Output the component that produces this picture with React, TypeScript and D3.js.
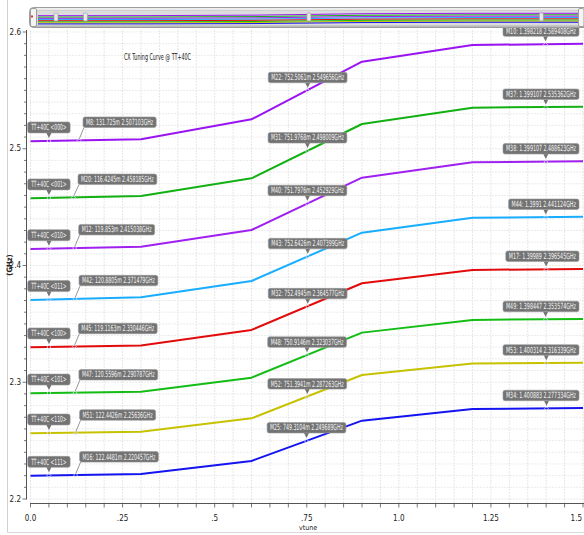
import React from "react";
import * as d3 from "d3";

// ---------- data ----------
const vtune = [0, 0.3, 0.6, 0.9, 1.2, 1.5];
const codes = ["<000>", "<001>", "<010>", "<011>", "<100>", "<101>", "<110>", "<111>"];
const colors = ["#9a14f2", "#12b012", "#a020f0", "#18adff", "#e20a0a", "#14bd14", "#c6c200", "#1414f0"];
const freq000 = [2.5064, 2.5082, 2.5252, 2.5746, 2.5888, 2.59];
const freq001 = [2.4576, 2.4595, 2.4747, 2.5212, 2.5352, 2.536];
const freq010 = [2.4141, 2.4161, 2.4304, 2.4752, 2.4884, 2.4893];
const freq011 = [2.3704, 2.3728, 2.3867, 2.4281, 2.4409, 2.4418];
const freq100 = [2.33, 2.3315, 2.3448, 2.3848, 2.3962, 2.397];
const freq101 = [2.2905, 2.2919, 2.3039, 2.3425, 2.3534, 2.3542];
const freq110 = [2.2563, 2.2576, 2.2691, 2.3062, 2.316, 2.3167];
const freq111 = [2.22, 2.2215, 2.2326, 2.2671, 2.277, 2.278];
const allFreq = [freq000, freq001, freq010, freq011, freq100, freq101, freq110, freq111];

const markerIds = [
  ["M8", "M22", "M10"], ["M20", "M31", "M37"], ["M12", "M40", "M38"], ["M42", "M43", "M44"],
  ["M45", "M32", "M17"], ["M47", "M48", "M49"], ["M51", "M52", "M53"], ["M16", "M25", "M34"],
];
const markerXText = [
  ["131.725m", "752.5061m", "1.398218"], ["116.4245m", "751.9768m", "1.399107"],
  ["119.853m", "751.7976m", "1.399107"], ["120.8805m", "752.6426m", "1.3991"],
  ["119.1163m", "752.4945m", "1.39989"], ["120.5596m", "750.9146m", "1.398447"],
  ["122.4426m", "751.3941m", "1.400314"], ["122.4481m", "749.3104m", "1.400883"],
];
const markerX = [
  [0.131725, 0.7525061, 1.398218], [0.1164245, 0.7519768, 1.399107],
  [0.119853, 0.7517976, 1.399107], [0.1208805, 0.7526426, 1.3991],
  [0.1191163, 0.7524945, 1.39989], [0.1205596, 0.7509146, 1.398447],
  [0.1224426, 0.7513941, 1.400314], [0.1224481, 0.7493104, 1.400883],
];
const markerY = [
  [2.507103, 2.549656, 2.589408], [2.458185, 2.498009, 2.535362],
  [2.415038, 2.452929, 2.488623], [2.371479, 2.407399, 2.441124],
  [2.330446, 2.364577, 2.396545], [2.290787, 2.323037, 2.353574],
  [2.25636, 2.287263, 2.316339], [2.220457, 2.249689, 2.277334],
];
const cornerLabel = "TT+40C";
const cornerX = 0.05;
const xTicks = [0, 0.25, 0.5, 0.75, 1.0, 1.25, 1.5];
const xTickLabels = ["0.0", ".25", ".5", ".75", "1.0", "1.25", "1.5"];
const yTicks = [2.2, 2.3, 2.4, 2.5, 2.6];
const yTickLabels = ["2.2", "2.3", "2.4", "2.5", "2.6"];
const title = "CX Tuning Curve @ TT+40C";
const xTitle = "vtune";
const yTitle = "(GHz)";

// ---------- layout ----------
const W = 584;
const H = 535;
const FONT = "'Liberation Sans Narrow', 'DejaVu Sans Condensed', 'Liberation Sans', Arial, sans-serif";

const x = d3.scaleLinear().domain([0, 1.5]).range([30.5, 583]);
const y = d3.scaleLinear().domain([2.2, 2.6]).range([499, 32]);
const ox = d3.scaleLinear().domain([0, 1.5]).range([38, 578]);
const oy = d3.scaleLinear().domain([2.2, 2.6]).range([24.5, 13]);

const CH = 2.8;
const FS = 5.3; // condensed callout text: small font, stretched vertically
const SY = 1.6;

function Marker({ cx, cy }: any) {
  return <path d={`M${cx - 2},${cy} L${cx},${cy - 2} L${cx + 2},${cy} L${cx},${cy + 2} Z`} fill="none" stroke="#dcdcff" strokeWidth={0.8} />;
}

function CText({ tx, ty, text, tl, anchor }: any) {
  return (
    <text transform={`translate(${tx},${ty}) scale(1,${SY})`} fill="#f4f4f4" fontSize={FS} fontFamily={FONT}
      textAnchor={anchor || "start"} textLength={tl} lengthAdjust="spacingAndGlyphs">{text}</text>
  );
}

function Callout({ cx, cy, text, kind }: any) {
  const tl = text.length * CH;
  const bw = tl + 6;
  const bh = 10.5;
  let bx: number, by: number;
  let pointer: any = null;
  if (kind === "tt") {
    const tw = text.length * 2.95;
    const w2 = tw + 7;
    bx = cx - w2 / 2;
    by = cy - 8 - 11;
    return (
      <g>
        <rect x={bx} y={by} width={w2} height={11} rx={2} fill="#737373" stroke="#9a9a9a" strokeWidth={0.6} />
        <path d={`M${cx - 2.5},${by + 11} L${cx + 2.5},${by + 11} L${cx},${cy - 3} Z`} fill="#737373" />
        <CText tx={cx} ty={by + 8.2} text={text} tl={tw} anchor="middle" />
        <Marker cx={cx} cy={cy} />
      </g>
    );
  }
  if (kind === "left") {
    bx = Math.max(cx + 4, 78);
    by = cy - 13 - bh;
    pointer = <line x1={bx + 1} y1={by + bh} x2={cx} y2={cy - 1} stroke="#8a8a8a" strokeWidth={0.9} />;
  } else {
    bx = Math.min(cx - bw / 2, W - 5 - bw);
    by = cy - 8 - bh;
    pointer = <path d={`M${cx - 2.5},${by + bh} L${cx + 2.5},${by + bh} L${cx},${cy - 3} Z`} fill="#737373" />;
  }
  return (
    <g>
      {pointer}
      <rect x={bx} y={by} width={bw} height={bh} rx={2} fill="#737373" stroke="#9a9a9a" strokeWidth={0.6} />
      <CText tx={bx + 3} ty={by + 7.9} text={text} tl={tl} />
      <Marker cx={cx} cy={cy} />
    </g>
  );
}

export default function App() {
  const line = d3.line<number>().x((_, i) => x(vtune[i])).y((d) => y(d));
  const oline = d3.line<number>().x((_, i) => ox(vtune[i])).y((d) => oy(d));
  const vGrid = d3.range(0, 31).map((i) => i * 0.05);
  const hGrid = d3.range(0, 41).map((i) => 2.2 + i * 0.01);
  const interp = (f: number[]) => d3.scaleLinear().domain(vtune).range(f);

  return (
    <svg width={W} height={H} style={{ position: "absolute", left: 0, top: 0, background: "#fff" }}>
      <defs>
        <linearGradient id="ovg" x1="0" y1="0" x2="0" y2="1">
          <stop offset="0" stopColor="#f0f0f0" />
          <stop offset="0.5" stopColor="#d4d4d4" />
          <stop offset="1" stopColor="#b8b8b8" />
        </linearGradient>
      </defs>

      {/* frame */}
      <line x1={7.5} y1={0} x2={7.5} y2={532.5} stroke="#d0d0d0" />
      <line x1={7.5} y1={532.5} x2={W} y2={532.5} stroke="#d8d8d8" />

      {/* grid */}
      {vGrid.map((v, i) => (
        <line key={"vg" + i} x1={x(v)} y1={30} x2={x(v)} y2={503} stroke="#e0e0e0" strokeWidth={0.8} strokeDasharray="2,1" />
      ))}
      {hGrid.map((v, i) => (
        <line key={"hg" + i} x1={30} y1={y(v)} x2={W} y2={y(v)} stroke="#e6e6e6" strokeWidth={0.8} strokeDasharray="2,1" />
      ))}

      {/* y axis */}
      <line x1={26.5} y1={30} x2={26.5} y2={499.5} stroke="#555" strokeWidth={1} />
      {hGrid.map((v, i) => (
        <line key={"yt" + i} x1={i % 10 === 0 ? 22.5 : 24} y1={y(v)} x2={26.5} y2={y(v)} stroke="#555" strokeWidth={0.8} />
      ))}
      {yTicks.map((v, i) => (
        <text key={"yl" + i} x={21} y={y(v) + 2.5} fontSize={8} fontFamily={FONT} textAnchor="end" fill="#222">
          {yTickLabels[i]}
        </text>
      ))}
      <text transform={`translate(12,265) rotate(-90)`} fontSize={7.5} fontWeight="bold" fontFamily={FONT} textAnchor="middle" fill="#222">
        {yTitle}
      </text>

      {/* x axis */}
      <line x1={30} y1={503.5} x2={W} y2={503.5} stroke="#555" strokeWidth={1} />
      {vGrid.map((v, i) => (
        <line key={"xt" + i} x1={x(v)} y1={503.5} x2={x(v)} y2={507.5} stroke="#555" strokeWidth={0.8} />
      ))}
      {xTicks.map((v, i) => (
        <text key={"xl" + i} x={i === xTicks.length - 1 ? W - 2 : x(v)} y={521} fontSize={8} fontFamily={FONT}
          textAnchor={i === xTicks.length - 1 ? "end" : "middle"} fill="#222">
          {xTickLabels[i]}
        </text>
      ))}
      <text x={308} y={529.5} fontSize={7} fontFamily={FONT} textAnchor="middle" fill="#222">{xTitle}</text>

      {/* title */}
      <text x={124} y={60} fontSize={8.5} fontFamily={FONT} fill="#222" textLength={67} lengthAdjust="spacingAndGlyphs">{title}</text>

      {/* curves */}
      {allFreq.map((f, i) => (
        <path key={"c" + i} d={line(f) || ""} fill="none" stroke={colors[i]} strokeWidth={2} strokeLinejoin="round" />
      ))}

      {/* callouts */}
      {allFreq.map((f, i) => (
        <g key={"co" + i}>
          <Callout kind="tt" cx={x(cornerX)} cy={y(interp(f)(cornerX))} text={`${cornerLabel} ${codes[i]}`} />
          {[0, 1, 2].map((k) => (
            <Callout key={k} kind={k === 0 ? "left" : "mid"} cx={x(markerX[i][k])} cy={y(markerY[i][k])}
              text={`${markerIds[i][k]}: ${markerXText[i][k]} ${markerY[i][k]}GHz`} />
          ))}
        </g>
      ))}

      {/* overview bar */}
      <rect x={29.5} y={7.5} width={562} height={20} rx={4} fill="url(#ovg)" stroke="#9c9c9c" />
      <rect x={37} y={10.5} width={543} height={15} fill="#dcdcdc" stroke="#c4c4c4" strokeWidth={0.6} />
      {allFreq.map((f, i) => (
        <path key={"o" + i} d={oline(f) || ""} fill="none" stroke={colors[i]} strokeWidth={1} />
      ))}
      <rect x={30.5} y={8.5} width={6} height={18} rx={1.5} fill="#f4f4f4" stroke="#8c8c8c" strokeWidth={0.8} />
      <rect x={31.2} y={15.5} width={1.6} height={2} fill="#e00" />
      <rect x={578.5} y={8.5} width={5.5} height={18} rx={1.5} fill="#f4f4f4" stroke="#8c8c8c" strokeWidth={0.8} />
      {[0.05, 0.131725, 0.7525061, 1.398218].map((v, i) => (
        <rect key={"kn" + i} x={ox(v) - 2} y={13} width={4} height={8} rx={1} fill="#e8e8e8" stroke="#9a9a9a" strokeWidth={0.6} />
      ))}
    </svg>
  );
}
